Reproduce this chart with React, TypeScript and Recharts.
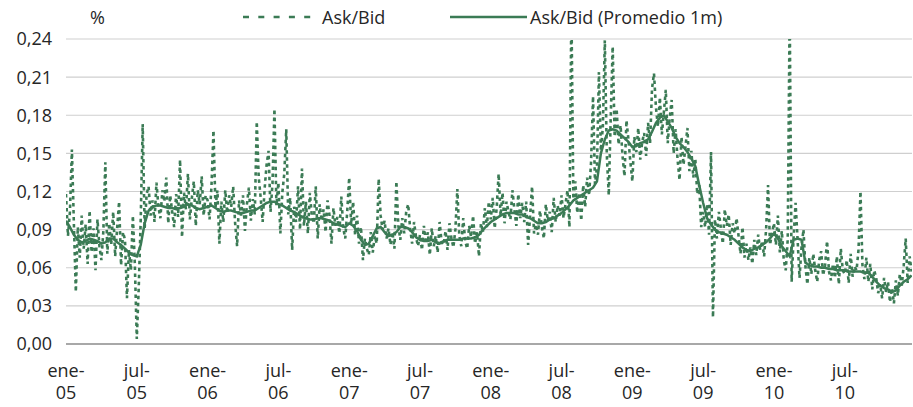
import React from 'react';
import { LineChart, Line, XAxis, YAxis, CartesianGrid } from 'recharts';

const GREEN = '#3b7b55';
const TXT = '#262626';
const FONT = '"Open Sans", "Noto Sans", sans-serif';

// x axis: months since Jan-2005
const tickMonths = [0, 6, 12, 18, 24, 30, 36, 42, 48, 54, 60, 66];
const tickLabels = ['ene-05', 'jul-05', 'ene-06', 'jul-06', 'ene-07', 'jul-07', 'ene-08', 'jul-08', 'ene-09', 'jul-09', 'ene-10', 'jul-10'];
const yTicks = [0, 0.03, 0.06, 0.09, 0.12, 0.15, 0.18, 0.21, 0.24];
const xMax = 71.7;

// Ask/Bid, ~6 readings per month
const ask2005 = [
  0.118, 0.085, 0.104, 0.153, 0.095, 0.041,
  0.092, 0.068, 0.101, 0.075, 0.094, 0.063,
  0.105, 0.072, 0.091, 0.058, 0.098, 0.077,
  0.066, 0.089, 0.143, 0.071, 0.095, 0.078,
  0.104, 0.069, 0.091, 0.112, 0.062, 0.088,
  0.082, 0.036, 0.074, 0.058, 0.101, 0.063,
  0.004, 0.045, 0.098, 0.173, 0.091, 0.118,
  0.124, 0.101, 0.113, 0.096, 0.127, 0.108,
  0.099, 0.121, 0.112, 0.131, 0.095, 0.117,
  0.104, 0.092, 0.118, 0.100, 0.145, 0.084,
  0.119, 0.106, 0.134, 0.098, 0.115, 0.128,
  0.093, 0.121, 0.110, 0.132, 0.101, 0.117,
];
const ask2006 = [
  0.113, 0.098, 0.125, 0.168, 0.107, 0.121,
  0.079, 0.112, 0.096, 0.121, 0.103, 0.117,
  0.108, 0.124, 0.095, 0.077, 0.113, 0.101,
  0.117, 0.089, 0.110, 0.123, 0.097, 0.114,
  0.102, 0.175, 0.131, 0.115, 0.096, 0.122,
  0.141, 0.152, 0.104, 0.126, 0.185, 0.109,
  0.127, 0.087, 0.119, 0.134, 0.169, 0.102,
  0.115, 0.074, 0.108, 0.096, 0.124, 0.090,
  0.138, 0.093, 0.112, 0.087, 0.119, 0.101,
  0.095, 0.124, 0.083, 0.110, 0.097, 0.106,
  0.088, 0.113, 0.101, 0.079, 0.107, 0.093,
  0.100, 0.087, 0.116, 0.091, 0.083, 0.104,
];
const ask2007 = [
  0.131, 0.094, 0.112, 0.086, 0.101, 0.079,
  0.092, 0.066, 0.083, 0.075, 0.070, 0.088,
  0.072, 0.085, 0.079, 0.130, 0.101, 0.090,
  0.097, 0.083, 0.091, 0.078, 0.088, 0.075,
  0.128, 0.093, 0.082, 0.099, 0.087, 0.104,
  0.110, 0.091, 0.079, 0.096, 0.084, 0.077,
  0.086, 0.074, 0.093, 0.079, 0.088, 0.070,
  0.091, 0.077, 0.085, 0.072, 0.096, 0.080,
  0.078, 0.089, 0.074, 0.095, 0.083, 0.076,
  0.090, 0.122, 0.085, 0.077, 0.099, 0.081,
  0.075, 0.093, 0.084, 0.101, 0.079, 0.088,
  0.069, 0.095, 0.088, 0.107, 0.092, 0.112,
];
const ask2008 = [
  0.098, 0.115, 0.091, 0.107, 0.134, 0.101,
  0.119, 0.095, 0.112, 0.104, 0.098, 0.121,
  0.106, 0.093, 0.118, 0.099, 0.111, 0.096,
  0.112, 0.078, 0.101, 0.124, 0.087, 0.094,
  0.086, 0.105, 0.092, 0.083, 0.110, 0.097,
  0.104, 0.088, 0.115, 0.096, 0.109, 0.101,
  0.117, 0.099, 0.110, 0.121, 0.092, 0.265,
  0.114, 0.128, 0.103, 0.119, 0.097, 0.125,
  0.108, 0.131, 0.117, 0.143, 0.195, 0.126,
  0.139, 0.214, 0.152, 0.171, 0.239, 0.149,
  0.117, 0.178, 0.234, 0.163, 0.185, 0.157,
  0.172, 0.148, 0.132, 0.176, 0.161, 0.143,
];
const ask2009 = [
  0.128, 0.163, 0.151, 0.170, 0.145, 0.159,
  0.166, 0.148, 0.174, 0.158, 0.201, 0.213,
  0.186, 0.171, 0.194, 0.165, 0.182, 0.200,
  0.158, 0.178, 0.192, 0.150, 0.169, 0.145,
  0.129, 0.163, 0.141, 0.155, 0.170, 0.136,
  0.152, 0.131, 0.146, 0.118, 0.125, 0.092,
  0.104, 0.092, 0.110, 0.086, 0.151, 0.021,
  0.098, 0.083, 0.104, 0.091, 0.079, 0.106,
  0.093, 0.102, 0.078, 0.095, 0.087, 0.099,
  0.085, 0.071, 0.092, 0.068, 0.079, 0.066,
  0.076, 0.063, 0.082, 0.070, 0.086, 0.074,
  0.081, 0.069, 0.090, 0.125, 0.078, 0.087,
];
const ask2010 = [
  0.095, 0.078, 0.101, 0.072, 0.089, 0.066,
  0.058, 0.082, 0.265, 0.049, 0.084, 0.111,
  0.083, 0.052, 0.076, 0.090, 0.061, 0.047,
  0.068, 0.055, 0.071, 0.058, 0.049, 0.066,
  0.073, 0.054, 0.062, 0.081, 0.057, 0.050,
  0.063, 0.052, 0.069, 0.047, 0.075, 0.058,
  0.055, 0.066, 0.048, 0.071, 0.053, 0.061,
  0.058, 0.074, 0.120, 0.062, 0.051, 0.068,
  0.049, 0.063, 0.043, 0.058, 0.052, 0.040,
  0.047, 0.036, 0.052, 0.041, 0.049, 0.033,
  0.044, 0.032, 0.050, 0.038, 0.055, 0.046,
  0.062, 0.083, 0.048, 0.069, 0.057,
];

// Ask/Bid 1-month average, 3 readings per month
const avg2005 = [
  0.097, 0.092, 0.086, 0.082, 0.080, 0.081, 0.083, 0.082, 0.081, 0.079, 0.080, 0.083,
  0.083, 0.080, 0.078, 0.075, 0.072, 0.070, 0.069, 0.078, 0.095, 0.105, 0.108, 0.109,
  0.109, 0.108, 0.107, 0.107, 0.106, 0.107, 0.108, 0.110, 0.109, 0.107, 0.106, 0.107,
];
const avg2006 = [
  0.108, 0.109, 0.107, 0.105, 0.104, 0.105, 0.105, 0.104, 0.103, 0.103, 0.104, 0.105,
  0.105, 0.107, 0.109, 0.111, 0.112, 0.112, 0.110, 0.109, 0.107, 0.105, 0.104, 0.102,
  0.100, 0.099, 0.098, 0.098, 0.099, 0.099, 0.098, 0.097, 0.095, 0.094, 0.093, 0.092,
];
const avg2007 = [
  0.095, 0.093, 0.089, 0.082, 0.078, 0.079, 0.085, 0.091, 0.092, 0.088, 0.085, 0.086,
  0.088, 0.092, 0.092, 0.091, 0.088, 0.084, 0.082, 0.081, 0.081, 0.082, 0.080, 0.079,
  0.081, 0.082, 0.082, 0.082, 0.082, 0.083, 0.083, 0.083, 0.084, 0.086, 0.090, 0.093,
];
const avg2008 = [
  0.096, 0.098, 0.100, 0.102, 0.103, 0.103, 0.103, 0.102, 0.102, 0.100, 0.099, 0.097,
  0.095, 0.095, 0.096, 0.098, 0.099, 0.101, 0.103, 0.106, 0.109, 0.113, 0.115, 0.117,
  0.119, 0.121, 0.123, 0.128, 0.150, 0.161, 0.168, 0.169, 0.168, 0.165, 0.162, 0.159,
];
const avg2009 = [
  0.155, 0.156, 0.158, 0.159, 0.161, 0.167, 0.174, 0.178, 0.180, 0.175, 0.170, 0.163,
  0.158, 0.155, 0.151, 0.146, 0.140, 0.125, 0.111, 0.099, 0.094, 0.090, 0.088, 0.087,
  0.086, 0.084, 0.082, 0.079, 0.076, 0.074, 0.073, 0.075, 0.076, 0.078, 0.080, 0.083,
];
const avg2010 = [
  0.087, 0.083, 0.077, 0.073, 0.069, 0.082, 0.083, 0.082, 0.064, 0.062, 0.061, 0.061,
  0.060, 0.060, 0.059, 0.059, 0.058, 0.058, 0.058, 0.057, 0.057, 0.057, 0.057, 0.056,
  0.056, 0.053, 0.049, 0.046, 0.044, 0.043, 0.041, 0.042, 0.046, 0.049, 0.051, 0.054,
];

const askData = [...ask2005, ...ask2006, ...ask2007, ...ask2008, ...ask2009, ...ask2010].map((v, i) => ({ x: i / 6, v }));
const avgData = [...avg2005, ...avg2006, ...avg2007, ...avg2008, ...avg2009, ...avg2010].map((v, i) => ({ x: i / 3, v }));

function XTick(props: any) {
  const { x, y, payload } = props;
  const idx = tickMonths.indexOf(payload.value);
  const lbl = idx >= 0 ? tickLabels[idx] : '';
  const [mon, yr] = lbl.split('-');
  return (
    <text textAnchor="middle" fontSize={18} fill={TXT} fontFamily={FONT}>
      <tspan x={x} y={y + 33}>{mon}-</tspan>
      <tspan x={x} y={y + 55}>{yr}</tspan>
    </text>
  );
}

export default function App() {
  return (
    <div style={{ position: 'absolute', left: 0, top: 0, width: 913, height: 407, background: '#fff' }}>
      <LineChart width={913} height={407} margin={{ top: 39, right: 1, bottom: 3, left: 8 }} style={{ fontFamily: FONT }}>
        <CartesianGrid vertical={false} stroke="#cfcfcf" strokeWidth={1.2} />
        <XAxis
          dataKey="x"
          type="number"
          domain={[0, xMax]}
          allowDataOverflow
          ticks={tickMonths}
          tick={<XTick />}
          tickLine={false}
          tickSize={0}
          tickMargin={0}
          height={60}
          axisLine={{ stroke: '#a8a8a8', strokeWidth: 2 }}
          interval={0}
        />
        <YAxis
          type="number"
          domain={[0, 0.24]}
          allowDataOverflow
          ticks={yTicks}
          width={58}
          axisLine={false}
          tickLine={false}
          tickSize={0}
          tickMargin={14}
          interval={0}
          tick={{ fontSize: 18, fill: TXT, fontFamily: FONT }}
          tickFormatter={(v: number) => v.toFixed(2).replace('.', ',')}
        />
        <Line
          data={askData}
          dataKey="v"
          type="linear"
          stroke={GREEN}
          strokeWidth={2.6}
          strokeDasharray="3.5 3.5"
          dot={false}
          isAnimationActive={false}
          name="Ask/Bid"
        />
        <Line
          data={avgData}
          dataKey="v"
          type="linear"
          stroke={GREEN}
          strokeWidth={2.5}
          dot={false}
          isAnimationActive={false}
          name="Ask/Bid (Promedio 1m)"
        />
      </LineChart>
      <svg width={913} height={34} style={{ position: 'absolute', left: 0, top: 0 }}>
        <text x={90} y={24} fontSize={18} fill={TXT} fontFamily={FONT}>%</text>
        <line x1={243} y1={17} x2={311} y2={17} stroke={GREEN} strokeWidth={2.7} strokeDasharray="6 9.3" />
        <text x={322} y={24} fontSize={18} fill={TXT} fontFamily={FONT}>Ask/Bid</text>
        <line x1={450} y1={17} x2={527} y2={17} stroke={GREEN} strokeWidth={2.5} />
        <text x={530} y={24} fontSize={18} fill={TXT} fontFamily={FONT}>Ask/Bid (Promedio 1m)</text>
      </svg>
    </div>
  );
}
